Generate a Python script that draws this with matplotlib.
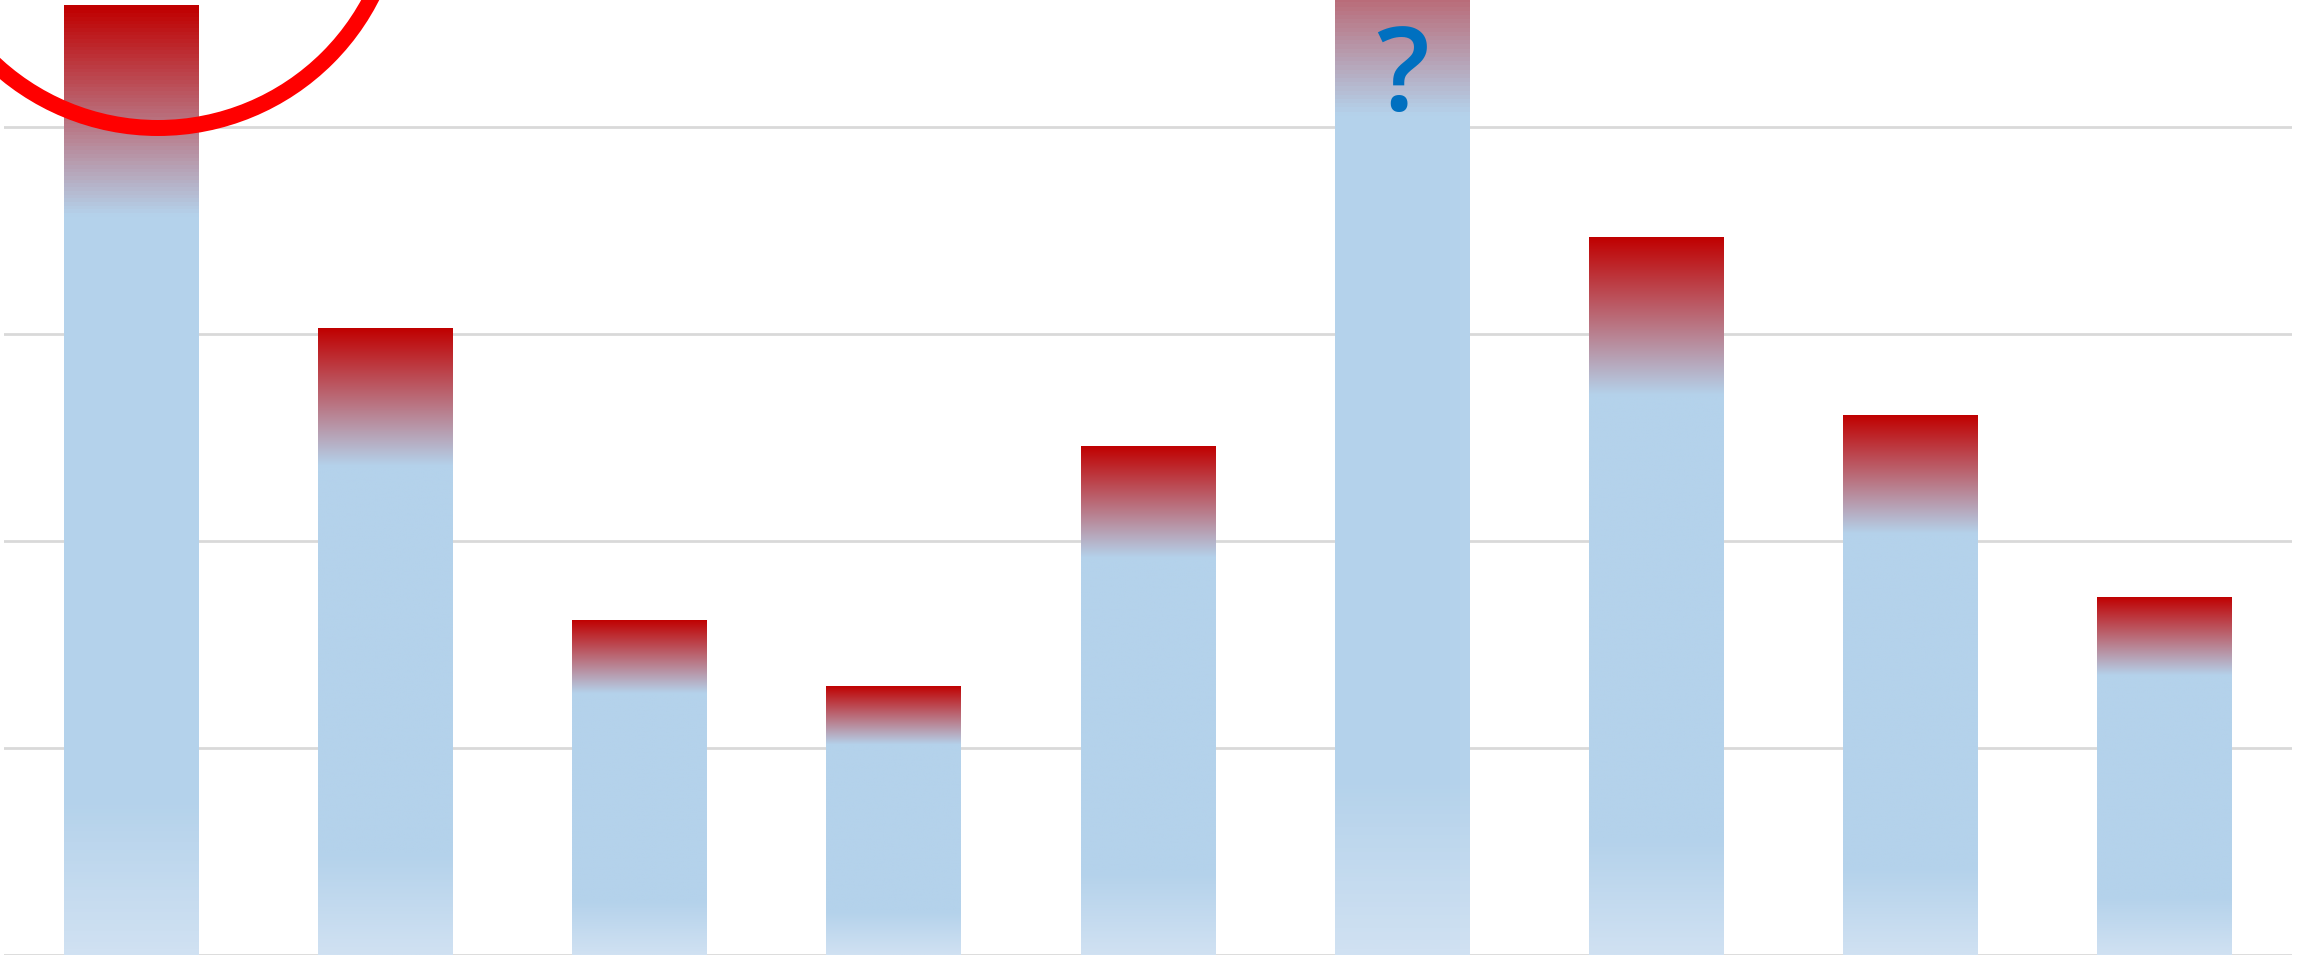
import numpy as np
import matplotlib
matplotlib.use("Agg")
import matplotlib.pyplot as plt
from matplotlib.colors import LinearSegmentedColormap
from matplotlib.patches import Ellipse

# data (grid units, no tick labels in the original)
categories = ["1", "2", "3", "4", "5", "6", "7", "8", "9"]
values = [4.59, 3.03, 1.62, 1.30, 2.46, 5.22, 3.47, 2.61, 1.73]
mystery_bar = 5  # the bar with the question mark

# gradient: bottom pale blue -> blue -> red at the top
grad = LinearSegmentedColormap.from_list(
    "barfill",
    [(0.00, "#d0e1f2"), (0.16, "#b4d2eb"), (0.78, "#b4d2eb"), (1.00, "#c00000")],
)

fig = plt.figure(figsize=(23.03, 9.58), dpi=100)
ax = fig.add_axes([4 / 2303, 3 / 958, 2288 / 2303, 955 / 958])

x = np.arange(len(values))
bars = ax.bar(x, values, width=0.531, color="none", edgecolor="none", zorder=2)

g = np.linspace(0, 1, 256).reshape(-1, 1)
for b in bars:
    bx, bw, bh = b.get_x(), b.get_width(), b.get_height()
    im = ax.imshow(g, cmap=grad, origin="lower", aspect="auto",
                   extent=[bx, bx + bw, 0, bh], zorder=2, interpolation="bilinear")
    im.set_clip_path(b)

ax.set_xlim(-0.5, len(values) - 0.5)
ax.set_ylim(0, 4.614)

ax.set_yticks([0, 1, 2, 3, 4])
ax.grid(axis="y", color="#d9d9d9", linewidth=2, zorder=0)
ax.set_axisbelow(True)
ax.tick_params(left=False, bottom=False, labelleft=False, labelbottom=False)
for s in ax.spines.values():
    s.set_visible(False)

ax.text(mystery_bar, 4.082, "?", color="#0070c0", fontsize=84,
        fontfamily="Open Sans", fontweight="semibold", ha="center", va="baseline", zorder=3)

circle = Ellipse((158 / 2303, 1 + 112 / 958), 480 / 2303, 480 / 958,
                 transform=fig.transFigure, fill=False, edgecolor="#ff0000",
                 linewidth=11.5, clip_on=False, zorder=5)
fig.patches.append(circle)

fig.savefig("out.png", dpi=100)
